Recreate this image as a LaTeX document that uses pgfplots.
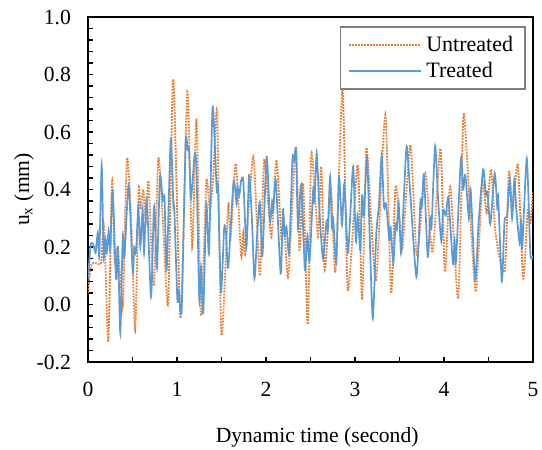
\documentclass[border=0pt]{standalone}
\usepackage{pgfplots}
\pgfplotsset{compat=1.18}
\usepackage{fontspec}
\setmainfont{Liberation Serif}
\definecolor{untr}{RGB}{237,125,49}
\definecolor{treat}{RGB}{91,155,213}

\begin{document}
\begin{tikzpicture}[font=\fontsize{10.8}{13}\selectfont]
\useasboundingbox (0,0) rectangle (271pt,225pt);
\begin{axis}[
  at={(44pt,44pt)}, anchor=south west,
  scale only axis, width=222.5pt, height=172.5pt,
  xmin=0, xmax=5, ymin=-0.2, ymax=1.0,
  xtick={0,1,2,3,4,5}, minor xtick={0.5,1.5,2.5,3.5,4.5},
  ytick={-0.2,0,0.2,0.4,0.6,0.8,1.0}, minor y tick num=4,
  xtick pos=bottom, ytick pos=left,
  tick align=inside,
  major tick length=2.6pt, minor tick length=2.6pt,
  every tick/.style={black, line width=0.6pt},
  axis line style={black, line width=0.8pt},
  /pgf/number format/assume math mode=true,
  yticklabel style={/pgf/number format/fixed, /pgf/number format/fixed zerofill, /pgf/number format/precision=1, xshift=-5pt},
  xticklabel style={yshift=-6.5pt},
  xlabel={Dynamic time (second)},
  ylabel={u\textsubscript{x} (mm)},
  every axis x label/.style={at={(axis description cs:0.515,-0.217)}, anchor=center},
  every axis y label/.style={at={(axis description cs:-0.144,0.5)}, anchor=center, rotate=90},
  legend style={at={(0.984,0.974)}, anchor=north east, draw=gray, line width=0.8pt,
    inner xsep=4pt, inner ysep=2.5pt, row sep=0pt, font=\fontsize{11}{13}\selectfont},
  legend cell align=left,
  legend image code/.code={\draw[#1] (0pt,0pt) -- (36pt,0pt);},
]
\addplot[untr, line width=0.9pt, dash pattern=on 0.9pt off 0.6pt, smooth, tension=0.4] table {
x y
0.00 0.04
0.02 0.10
0.04 0.14
0.08 0.145
0.12 0.14
0.15 0.15
0.18 0.276
0.228 -0.13
0.27 0.427
0.30 0.15
0.33 0.20
0.36 0.10
0.385 0.01
0.395 0.02
0.438 0.508
0.485 0.30
0.53 -0.09
0.57 0.398
0.59 0.33
0.62 0.40
0.65 0.29
0.68 0.43
0.72 0.13
0.745 0.08
0.79 0.508
0.84 0.30
0.90 0.004
0.958 0.784
1.04 -0.048
1.116 0.74
1.17 0.20
1.22 0.647
1.27 -0.04
1.33 0.43
1.37 0.33
1.41 0.46
1.45 0.667
1.50 -0.106
1.576 0.35
1.60 0.22
1.66 0.49
1.72 0.17
1.745 0.25
1.77 0.18
1.857 0.514
1.93 0.10
1.98 0.503
2.06 0.236
2.116 0.503
2.176 0.22
2.20 0.30
2.25 0.097
2.335 0.55
2.375 0.19
2.416 0.42
2.47 -0.07
2.51 0.526
2.584 0.236
2.62 0.48
2.66 0.12
2.73 0.40
2.78 0.114
2.86 0.748
2.92 0.05
3.03 0.485
3.08 0.016
3.127 0.543
3.18 0.30
3.24 0.09
3.34 0.66
3.405 0.04
3.455 0.41
3.50 0.30
3.535 0.20
3.622 0.555
3.695 0.17
3.79 0.456
3.87 0.18
3.96 0.543
4.01 0.114
4.07 0.41
4.16 0.02
4.22 0.66
4.30 0.28
4.36 0.044
4.43 0.42
4.48 0.32
4.53 0.47
4.58 0.246
4.68 0.114
4.73 0.46
4.77 0.33
4.83 0.485
4.89 0.09
4.94 0.33
4.97 0.28
5.00 0.39
};
\addlegendentry{Untreated}
\addplot[treat, line width=0.85pt, smooth, tension=0.4] table {
x y
0.00 0.09
0.03 0.207
0.06 0.21
0.085 0.18
0.11 0.25
0.127 0.17
0.154 0.485
0.176 0.166
0.195 0.23
0.21 0.18
0.232 0.257
0.25 0.19
0.277 0.398
0.315 0.09
0.337 0.20
0.363 -0.10
0.39 0.236
0.41 0.166
0.457 0.416
0.502 0.114
0.52 0.20
0.54 0.18
0.565 0.34
0.588 0.20
0.614 0.33
0.63 0.18
0.66 0.37
0.708 0.027
0.738 0.323
0.75 0.32
0.775 0.127
0.809 0.444
0.84 0.36
0.86 0.37
0.884 0.12
0.929 0.572
0.96 0.34
0.97 0.33
1.004 0.016
1.02 0.05
1.052 -0.02
1.097 0.56
1.12 0.54
1.135 0.54
1.157 0.37
1.20 0.526
1.22 0.455
1.25 0.016
1.27 0.13
1.295 -0.03
1.33 0.35
1.36 0.18
1.40 0.686
1.446 0.40
1.46 0.41
1.494 0.044
1.53 0.265
1.55 0.25
1.576 0.13
1.635 0.427
1.67 0.35
1.68 0.41
1.70 0.38
1.72 0.43
1.745 0.43
1.78 0.20
1.81 0.45
1.84 0.31
1.87 0.09
1.90 0.24
1.93 0.357
1.96 0.17
2.007 0.514
2.045 0.29
2.07 0.36
2.08 0.32
2.11 0.433
2.165 0.108
2.19 0.33
2.21 0.24
2.23 0.27
2.26 0.18
2.297 0.503
2.315 0.50
2.337 0.537
2.36 0.265
2.395 0.416
2.437 0.12
2.465 0.24
2.49 0.15
2.53 0.40
2.545 0.36
2.57 0.526
2.60 0.33
2.64 0.16
2.68 0.29
2.695 0.26
2.72 0.444
2.74 0.27
2.755 0.30
2.79 0.143
2.82 0.444
2.854 0.277
2.88 0.42
2.92 0.18
2.95 0.33
2.98 0.48
3.01 0.22
3.03 0.31
3.06 0.19
3.08 0.38
3.10 0.31
3.135 0.514
3.165 0.24
3.20 -0.048
3.24 0.25
3.27 0.35
3.30 0.52
3.325 0.34
3.35 0.35
3.385 0.224
3.40 0.27
3.43 0.143
3.455 0.28
3.47 0.26
3.49 0.357
3.517 0.178
3.54 0.31
3.58 0.55
3.62 0.39
3.69 0.097
3.735 0.36
3.75 0.34
3.775 0.45
3.817 0.166
3.845 0.30
3.86 0.27
3.90 0.55
3.935 0.36
3.97 0.22
3.99 0.33
4.02 0.31
4.05 0.37
4.10 0.143
4.12 0.22
4.135 0.15
4.19 0.508
4.215 0.40
4.24 0.45
4.28 0.30
4.30 0.40
4.35 0.085
4.39 0.29
4.44 0.47
4.47 0.38
4.49 0.39
4.52 0.28
4.57 0.456
4.60 0.33
4.61 0.37
4.65 0.08
4.68 0.29
4.71 0.31
4.74 0.433
4.765 0.30
4.79 0.433
4.815 0.32
4.85 0.213
4.865 0.29
4.88 0.20
4.93 0.508
4.97 0.178
5.00 0.17
};
\addlegendentry{Treated}
\end{axis}
\end{tikzpicture}
\end{document}
